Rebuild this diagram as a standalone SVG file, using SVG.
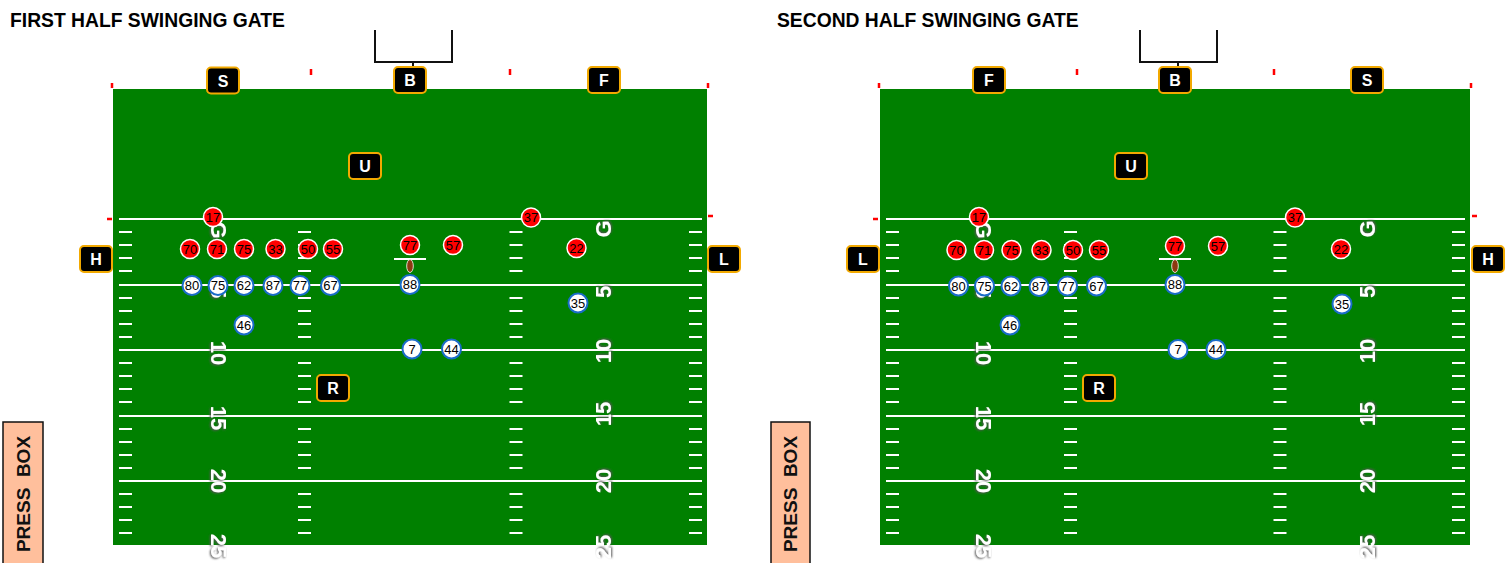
<svg xmlns="http://www.w3.org/2000/svg" xmlns:xlink="http://www.w3.org/1999/xlink" width="1509" height="563" viewBox="0 0 1509 563">
<style>
.title{font-family:"Liberation Sans",Arial,sans-serif;font-weight:bold;font-size:19.3px;fill:#000}
.field{fill:#008000}
.yl{stroke:#fff;stroke-width:2;fill:none}
.num{font-family:"Liberation Sans",Arial,sans-serif;font-weight:bold;font-size:22px;fill:#fff;text-anchor:middle;filter:url(#sh)}
.post{stroke:#111;stroke-width:2;fill:none}
.rt{stroke:#f00;stroke-width:2.5}
.def circle{fill:#f00;stroke:#fff;stroke-width:1.5}
.off circle{fill:#fff;stroke:#1a6cc8;stroke-width:2}
.pl text{font-family:"Liberation Sans",Arial,sans-serif;font-size:13px;fill:#000;text-anchor:middle}
.of rect{fill:#000;stroke:#f2a900;stroke-width:2}
.of text{font-family:"Liberation Sans",Arial,sans-serif;font-weight:bold;font-size:16px;fill:#fff;text-anchor:middle}
.ball{fill:#8b3a0f;stroke:#fff;stroke-width:0.8}
.pb rect{fill:#ffbf9c;stroke:#111;stroke-width:1.5}
.pb text{font-family:"Liberation Sans",Arial,sans-serif;font-weight:bold;font-size:19px;fill:#111;text-anchor:middle;white-space:pre}
</style>
<defs>
<filter id="sh" x="-30%" y="-30%" width="160%" height="160%">
<feDropShadow dx="1" dy="1" stdDeviation="1.2" flood-color="#555" flood-opacity="1"/>
</filter>
<path id="hash" class="yl" d="M0 232h13M0 245h13M0 258h13M0 271h13M0 298h13M0 311h13M0 324h13M0 337h13M0 363h13M0 376h13M0 389h13M0 402h13M0 429h13M0 442h13M0 455h13M0 468h13M0 494h13M0 507h13M0 520h13M0 533h13"/>
</defs>

<!-- ============ FIRST HALF ============ -->
<text class="title" x="10" y="27">FIRST HALF SWINGING GATE</text>
<g id="field1">
<rect class="field" x="113" y="89" width="594" height="456"/>
<path class="yl" d="M119 219H702M119 285H702M119 350H702M119 416H702M119 481H702"/>
<use xlink:href="#hash" x="119" y="0"/>
<use xlink:href="#hash" x="298" y="0"/>
<use xlink:href="#hash" x="509.5" y="0"/>
<use xlink:href="#hash" x="689" y="0"/>
<text class="num" transform="translate(211,230) rotate(90)">G</text>
<text class="num" transform="translate(211,292) rotate(90)">5</text>
<text class="num" transform="translate(211,353) rotate(90)">10</text>
<text class="num" transform="translate(211,418) rotate(90)">15</text>
<text class="num" transform="translate(211,481) rotate(90)">20</text>
<text class="num" transform="translate(211,546) rotate(90)">25</text>
<text class="num" transform="translate(611,229) rotate(-90)">G</text>
<text class="num" transform="translate(611,292) rotate(-90)">5</text>
<text class="num" transform="translate(611,351) rotate(-90)">10</text>
<text class="num" transform="translate(611,414) rotate(-90)">15</text>
<text class="num" transform="translate(611,481) rotate(-90)">20</text>
<text class="num" transform="translate(611,547) rotate(-90)">25</text>
<path class="rt" d="M112 83v5M311 69v6M510 69v6M708 83v5M107 219h5M708 216h5"/>
<path class="post" d="M375 30V62H452V30M413 62v5"/>
<path class="yl" d="M394 259h32"/>
<ellipse class="ball" cx="410" cy="266" rx="3.3" ry="6.5"/>
</g>
<g id="press1" class="pb">
<rect x="3" y="422" width="40" height="150"/>
<text transform="translate(30,494) rotate(-90)">PRESS  BOX</text>
</g>
<g id="defense1" class="pl def">
<g id="d1-17"><circle cx="213" cy="217" r="9.5"/><text x="213" y="221.5">17</text></g>
<g id="d1-70"><circle cx="190" cy="249" r="9.5"/><text x="190" y="253.5">70</text></g>
<g id="d1-71"><circle cx="217" cy="249" r="9.5"/><text x="217" y="253.5">71</text></g>
<g id="d1-75"><circle cx="244" cy="249" r="9.5"/><text x="244" y="253.5">75</text></g>
<g id="d1-33"><circle cx="275.5" cy="249" r="9.5"/><text x="275.5" y="253.5">33</text></g>
<g id="d1-50"><circle cx="308" cy="249" r="9.5"/><text x="308" y="253.5">50</text></g>
<g id="d1-55"><circle cx="333" cy="249" r="9.5"/><text x="333" y="253.5">55</text></g>
<g id="d1-77"><circle cx="410" cy="245" r="9.5"/><text x="410" y="249.5">77</text></g>
<g id="d1-57"><circle cx="453" cy="245" r="9.5"/><text x="453" y="249.5">57</text></g>
<g id="d1-37"><circle cx="531" cy="217.5" r="9.5"/><text x="531" y="222">37</text></g>
<g id="d1-22"><circle cx="576.5" cy="248" r="9.5"/><text x="576.5" y="252.5">22</text></g>
</g>
<g id="offense1" class="pl off">
<g id="o1-80"><circle cx="192" cy="285.5" r="9.5"/><text x="192" y="290">80</text></g>
<g id="o1-75"><circle cx="218" cy="285.5" r="9.5"/><text x="218" y="290">75</text></g>
<g id="o1-62"><circle cx="244" cy="285.5" r="9.5"/><text x="244" y="290">62</text></g>
<g id="o1-87"><circle cx="273" cy="285.5" r="9.5"/><text x="273" y="290">87</text></g>
<g id="o1-77"><circle cx="300" cy="285.5" r="9.5"/><text x="300" y="290">77</text></g>
<g id="o1-67"><circle cx="330.5" cy="285.5" r="9.5"/><text x="330.5" y="290">67</text></g>
<g id="o1-88"><circle cx="410" cy="284.5" r="9.5"/><text x="410" y="289">88</text></g>
<g id="o1-35"><circle cx="578" cy="303" r="9.5"/><text x="578" y="307.5">35</text></g>
<g id="o1-46"><circle cx="244" cy="325" r="9.5"/><text x="244" y="329.5">46</text></g>
<g id="o1-7"><circle cx="412" cy="349" r="9.5"/><text x="412" y="353.5">7</text></g>
<g id="o1-44"><circle cx="451.5" cy="349" r="9.5"/><text x="451.5" y="353.5">44</text></g>
</g>
<g id="s1" class="of"><rect x="207" y="67.5" width="32" height="26" rx="4"/><text x="223" y="86.5">S</text></g>
<g id="b1" class="of"><rect x="394" y="67" width="32" height="26" rx="4"/><text x="410" y="86">B</text></g>
<g id="f1" class="of"><rect x="588" y="67" width="32" height="26" rx="4"/><text x="604" y="86">F</text></g>
<g id="u1" class="of"><rect x="349" y="153" width="32" height="26" rx="4"/><text x="365" y="172">U</text></g>
<g id="h1" class="of"><rect x="80" y="246" width="32" height="26" rx="4"/><text x="96" y="265">H</text></g>
<g id="l1" class="of"><rect x="708" y="246" width="32" height="26" rx="4"/><text x="724" y="265">L</text></g>
<g id="r1" class="of"><rect x="317" y="375" width="32" height="26" rx="4"/><text x="333" y="394">R</text></g>

<!-- ============ SECOND HALF ============ -->
<text class="title" x="777" y="27">SECOND HALF SWINGING GATE</text>
<g id="field2">
<rect class="field" x="880" y="89" width="590" height="456"/>
<path class="yl" d="M886 219H1465M886 285H1465M886 350H1465M886 416H1465M886 481H1465"/>
<use xlink:href="#hash" x="886" y="0"/>
<use xlink:href="#hash" x="1064" y="0"/>
<use xlink:href="#hash" x="1273.5" y="0"/>
<use xlink:href="#hash" x="1452" y="0"/>
<text class="num" transform="translate(976,230) rotate(90)">G</text>
<text class="num" transform="translate(976,292) rotate(90)">5</text>
<text class="num" transform="translate(976,353) rotate(90)">10</text>
<text class="num" transform="translate(976,418) rotate(90)">15</text>
<text class="num" transform="translate(976,481) rotate(90)">20</text>
<text class="num" transform="translate(976,546) rotate(90)">25</text>
<text class="num" transform="translate(1375,229) rotate(-90)">G</text>
<text class="num" transform="translate(1375,292) rotate(-90)">5</text>
<text class="num" transform="translate(1375,351) rotate(-90)">10</text>
<text class="num" transform="translate(1375,414) rotate(-90)">15</text>
<text class="num" transform="translate(1375,481) rotate(-90)">20</text>
<text class="num" transform="translate(1375,547) rotate(-90)">25</text>
<path class="rt" d="M879 83v5M1077 69v6M1274 69v6M1471 83v5M873 219h5M1472 216h5"/>
<path class="post" d="M1140 30V62H1217V30M1178 62v5"/>
<path class="yl" d="M1159 259h32"/>
<ellipse class="ball" cx="1175" cy="266" rx="3.3" ry="6.5"/>
</g>
<g id="press2" class="pb">
<rect x="771" y="422" width="39" height="150"/>
<text transform="translate(797,494) rotate(-90)">PRESS  BOX</text>
</g>
<g id="defense2" class="pl def">
<g id="d2-17"><circle cx="979" cy="217" r="9.5"/><text x="979" y="221.5">17</text></g>
<g id="d2-70"><circle cx="956.5" cy="250" r="9.5"/><text x="956.5" y="254.5">70</text></g>
<g id="d2-71"><circle cx="984" cy="250" r="9.5"/><text x="984" y="254.5">71</text></g>
<g id="d2-75"><circle cx="1011.5" cy="250" r="9.5"/><text x="1011.5" y="254.5">75</text></g>
<g id="d2-33"><circle cx="1041.5" cy="250" r="9.5"/><text x="1041.5" y="254.5">33</text></g>
<g id="d2-50"><circle cx="1073" cy="250" r="9.5"/><text x="1073" y="254.5">50</text></g>
<g id="d2-55"><circle cx="1099" cy="250" r="9.5"/><text x="1099" y="254.5">55</text></g>
<g id="d2-77"><circle cx="1175" cy="246" r="9.5"/><text x="1175" y="250.5">77</text></g>
<g id="d2-57"><circle cx="1218" cy="246" r="9.5"/><text x="1218" y="250.5">57</text></g>
<g id="d2-37"><circle cx="1295" cy="217.5" r="9.5"/><text x="1295" y="222">37</text></g>
<g id="d2-22"><circle cx="1341" cy="249" r="9.5"/><text x="1341" y="253.5">22</text></g>
</g>
<g id="offense2" class="pl off">
<g id="o2-80"><circle cx="958.5" cy="286" r="9.5"/><text x="958.5" y="290.5">80</text></g>
<g id="o2-75"><circle cx="984.5" cy="286" r="9.5"/><text x="984.5" y="290.5">75</text></g>
<g id="o2-62"><circle cx="1011" cy="286" r="9.5"/><text x="1011" y="290.5">62</text></g>
<g id="o2-87"><circle cx="1039" cy="286.5" r="9.5"/><text x="1039" y="291">87</text></g>
<g id="o2-77"><circle cx="1067.5" cy="286" r="9.5"/><text x="1067.5" y="290.5">77</text></g>
<g id="o2-67"><circle cx="1096.5" cy="286" r="9.5"/><text x="1096.5" y="290.5">67</text></g>
<g id="o2-88"><circle cx="1175" cy="284.5" r="9.5"/><text x="1175" y="289">88</text></g>
<g id="o2-35"><circle cx="1342" cy="304" r="9.5"/><text x="1342" y="308.5">35</text></g>
<g id="o2-46"><circle cx="1010" cy="325" r="9.5"/><text x="1010" y="329.5">46</text></g>
<g id="o2-7"><circle cx="1178" cy="349.5" r="9.5"/><text x="1178" y="354">7</text></g>
<g id="o2-44"><circle cx="1216" cy="349.5" r="9.5"/><text x="1216" y="354">44</text></g>
</g>
<g id="f2" class="of"><rect x="973" y="67" width="32" height="26" rx="4"/><text x="989" y="86">F</text></g>
<g id="b2" class="of"><rect x="1159" y="67" width="32" height="26" rx="4"/><text x="1175" y="86">B</text></g>
<g id="s2" class="of"><rect x="1351" y="67" width="32" height="26" rx="4"/><text x="1367" y="86">S</text></g>
<g id="u2" class="of"><rect x="1115" y="153" width="32" height="26" rx="4"/><text x="1131" y="172">U</text></g>
<g id="l2" class="of"><rect x="847" y="246" width="32" height="26" rx="4"/><text x="863" y="265">L</text></g>
<g id="h2" class="of"><rect x="1472" y="246" width="32" height="26" rx="4"/><text x="1488" y="265">H</text></g>
<g id="r2" class="of"><rect x="1083" y="375" width="32" height="26" rx="4"/><text x="1099" y="394">R</text></g>
<g id="connectors"/>
</svg>
